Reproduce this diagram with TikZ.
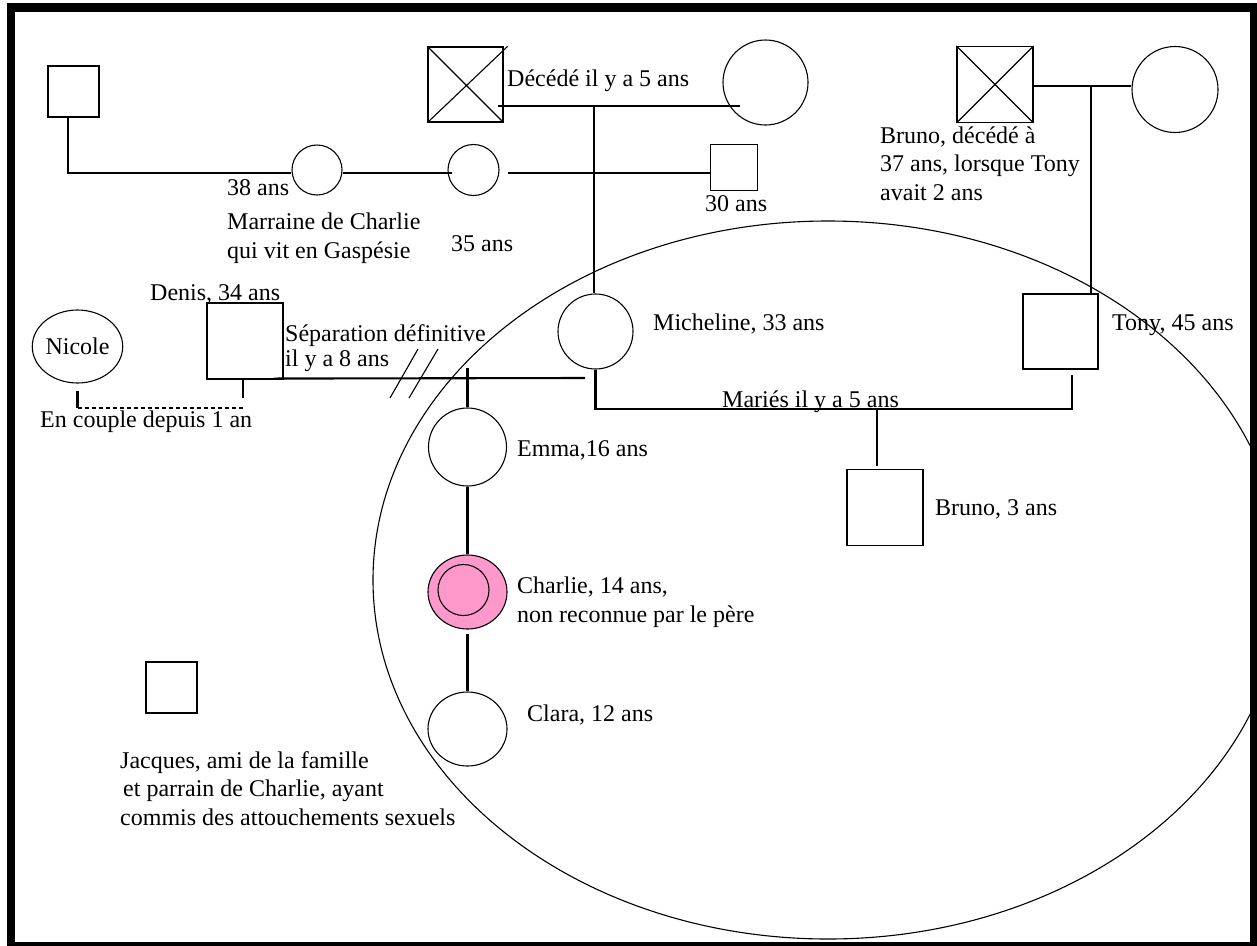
\documentclass[tikz,border=0pt]{standalone}
\usepackage{fontspec}
\setmainfont{Liberation Serif}
\usetikzlibrary{calc,shapes.geometric}
\definecolor{pinkfill}{HTML}{FF99CC}
\tikzset{
 sq/.style={draw, rectangle, line width=1.1pt, minimum size=#1, inner sep=0},
 circ/.style={draw, circle, line width=1.1pt, minimum size=#1, inner sep=0},
 ell/.style 2 args={draw, ellipse, line width=1.1pt, minimum width=#1, minimum height=#2, inner sep=0},
 conn/.style={line width=2.1pt},
 thin/.style={line width=1.1pt},
 lbl/.style={anchor=base west, inner sep=0, align=left},
}
\begin{document}
\begin{tikzpicture}[x=1pt,y=-1pt,font=\fontsize{24}{28.5}\selectfont]
\useasboundingbox (0,0) rectangle (1257,945);
\clip (0,0) rectangle (1257,945);
% large ellipse (household)
\draw[thin] (828,580) ellipse [x radius=455, y radius=359];
% persons
\node[sq=51] (sqTL) at (73.5,91.5) {};
\node[circ=50] (mar) at (317,170) {};
\node[circ=51] (c35) at (473.5,170) {};
\node[sq=46.5] (sq30) at (734,167.5) {};
\node[sq=75] (gpD) at (465.5,84.5) {};
\node[circ=85] (gm) at (765.5,82.5) {};
\node[sq=76] (gpB) at (995,84.5) {};
\node[circ=86] (gmT) at (1175,89.5) {};
\node[sq=76] (den) at (245,341) {};
\node[ell={79}{73}] (nic) at (77.5,346.5) {Nicole};
\node[circ=75] (mic) at (595.5,331.5) {};
\node[sq=75] (tony) at (1060.5,331.5) {};
\node[circ=78] (emma) at (467.5,447) {};
\node[ell={79}{74}, fill=pinkfill] (cha) at (467.5,592) {};
\node[circ=51] (chain) at (463.5,590) {};
\node[ell={79}{74}] (clara) at (467.5,729) {};
\node[sq=76] (bruno) at (885,507.5) {};
\node[sq=51] (jac) at (171.5,687.5) {};
% crosses (deceased)
\draw[thin] (gpD.north west) -- (gpD.south east) (gpD.south west) -- ($(gpD.north east)+(4,0)$);
\draw[thin] (gpB.north west) -- (gpB.south east) (gpB.south west) -- (gpB.north east);
% connectors
\draw[conn] ($(sqTL.south)+(-5.5,0)$) |- ($(mar.west)+(0,3)$);
\draw[conn] ($(mar.east)+(0,3)$) -- ($(c35.west)+(5,3)$);
\draw[conn] ($(c35.east)+(8,3)$) -- ($(sq30.west)+(0,5.5)$);
\draw[conn] ($(gpD.east)+(-6,21.5)$) -- ($(gm.west)+(18,23.5)$);
\coordinate (j1) at (594,106);
\draw[conn] (j1) -- (j1 |- mic.north);
\draw[conn] ($(gpB.east)+(0,1.5)$) -- ($(gmT.west)+(0,-3.5)$);
\coordinate (j2) at (1091,86);
\draw[conn] (j2) -- (j2 |- tony.north);
% Nicole - Denis
\coordinate (nd) at (243,408);
\draw[conn] ($(nic.south)+(0,7)$) -- (nic.south |- nd);
\draw[line width=1.3pt, dash pattern=on 4pt off 3pt] (nic.south |- nd) -- (nd);
\draw[conn] (nd |- den.south) -- ($(nd)+(0,-10)$);
% separation Denis - Micheline
\coordinate (sepR) at (585,378);
\draw[conn] ($(den.south east)+(-10,-1)$) -- (sepR);
\draw[thin] (390,398) -- (418,349) (409,398) -- (438,349);
\draw[conn] ($(emma.north)+(0,-39)$) -- (emma.north);
% Micheline - Tony
\coordinate (mt) at (877,408);
\draw[conn] (mic.south) |- ($(tony.south)+(11.5,39)$) -- ($(tony.south)+(11.5,5)$);
\draw[conn] (mt) -- ($(bruno.north)+(-8,-3)$);
% siblings
\draw[conn] (emma.south) -- (cha.north);
\draw[conn] ($(cha.south)+(0,4)$) -- (clara.north);
% labels (multi-line nodes: base = last line)
\node[lbl] (l38) at (227,195) {38 ans};
\node[lbl] (lmar) at (227,258) {Marraine de Charlie\\qui vit en Gaspésie};
\node[lbl] (l35) at (451,251) {35 ans};
\node[lbl] (l30) at (705,211) {30 ans};
\node[lbl] (ldec) at (507,86) {Décédé il y a 5 ans};
\node[lbl] (lbr) at (880,200) {Bruno, décédé à\\37 ans, lorsque Tony\\avait 2 ans};
\node[lbl] (lden) at (150,300) {Denis, 34 ans};
\node[lbl, font=\fontsize{24}{25}\selectfont] (lsep) at (285,366) {Séparation définitive\\il y a 8 ans};
\node[lbl] (lcpl) at (40,427) {En couple depuis 1 an};
\node[lbl] (lmic) at (653,330) {Micheline, 33 ans};
\node[lbl] (ltony) at (1112,330) {Tony, 45 ans};
\node[lbl] (lmar2) at (722,407) {Mariés il y a 5 ans};
\node[lbl] (lemma) at (517,456) {Emma,16 ans};
\node[lbl] (lbruno) at (935,515) {Bruno, 3 ans};
\node[lbl] (lcha) at (517,622) {Charlie, 14 ans,\\non reconnue par le père};
\node[lbl] (lclara) at (527,721) {Clara, 12 ans};
\node[lbl] (ljac) at (120,825) {Jacques, ami de la famille\\\hspace*{3pt}et parrain de Charlie, ayant\\commis des attouchements sexuels};
% frame
\draw[line width=8.5pt] (11,7.5) rectangle (1254,946.5);
\end{tikzpicture}
\end{document}
